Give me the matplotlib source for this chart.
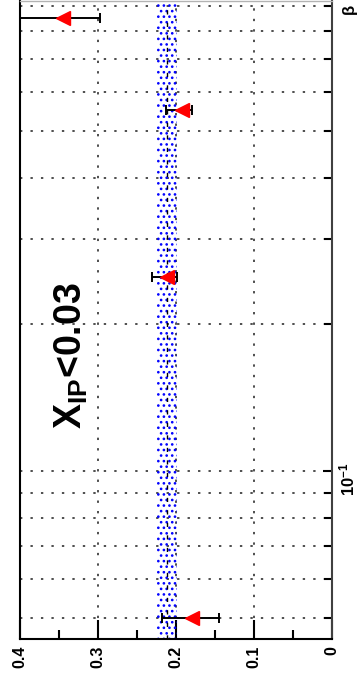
import matplotlib
matplotlib.use("Agg")
import matplotlib.pyplot as plt
from matplotlib.ticker import FixedLocator, FixedFormatter, NullFormatter

# ---------------- data ----------------
beta = [0.050, 0.25, 0.55, 0.85]
ratio = [0.180, 0.212, 0.192, 0.345]
err_up = [0.038, 0.019, 0.021, 0.055]
err_lo = [0.035, 0.013, 0.012, 0.047]
band_lo, band_hi, band_mid = 0.199, 0.225, 0.212

value_ticks = [0.0, 0.1, 0.2, 0.3, 0.4]
value_ticklabels = ["0", "0.1", "0.2", "0.3", "0.4"]
value_minor = [0.05, 0.15, 0.25, 0.35]
beta_major = [0.1]
beta_major_labels = [r"10$^{-1}$"]
beta_minor = [0.05, 0.06, 0.07, 0.08, 0.09, 0.2, 0.3, 0.4, 0.5, 0.6, 0.7, 0.8, 0.9]
label_text = r"X$_{\mathbf{IP}}$<0.03"
axis_title = "β"

# ---------------- style ----------------
plt.rcParams['font.family'] = ['Liberation Sans', 'DejaVu Sans']
plt.rcParams['font.weight'] = 'bold'
plt.rcParams['mathtext.fontset'] = 'custom'
plt.rcParams['mathtext.rm'] = 'Liberation Sans:bold'
plt.rcParams['mathtext.bf'] = 'Liberation Sans:bold'
plt.rcParams['mathtext.default'] = 'bf'
plt.rcParams['hatch.linewidth'] = 1.1

fig = plt.figure(figsize=(3.57, 6.89), dpi=100)
ax = fig.add_axes([20/357, 50/689, 312/357, 638.5/689])

ax.set_yscale('log')
ax.set_xlim(0.4, 0.0)
ax.set_ylim(0.0452, 0.925)

# band
ax.axvspan(band_lo, band_hi, facecolor='none', edgecolor='blue', hatch='...', lw=0, zorder=1)
ax.axvline(band_mid, color='black', ls=(0, (3, 6)), lw=1.0, zorder=1.5)

# grid
grid_kw = dict(color='0.25', ls=(0, (1.3, 4.5)), lw=1.3)
ax.grid(True, which='both', axis='y', **grid_kw)
ax.grid(True, which='major', axis='x', **grid_kw)
ax.set_axisbelow(True)

# data
ax.errorbar(ratio, beta, xerr=[err_lo, err_up], fmt='<', color='red', mec='red',
            ms=9.5, ecolor='black', elinewidth=1.4, capsize=3.6, capthick=1.4, zorder=3)

# value axis (horizontal)
ax.xaxis.set_major_locator(FixedLocator(value_ticks))
ax.xaxis.set_major_formatter(FixedFormatter(value_ticklabels))
ax.xaxis.set_minor_locator(FixedLocator(value_minor))
ax.tick_params(axis='x', which='major', direction='in', length=13.5, width=1.5,
               labelrotation=90, pad=5, labelsize=11.5, top=False)
ax.tick_params(axis='x', which='minor', direction='in', length=6.5, width=1.5, top=False)

# beta axis (vertical, on the right)
ax.yaxis.set_major_locator(FixedLocator(beta_major))
ax.yaxis.set_major_formatter(FixedFormatter(beta_major_labels))
ax.yaxis.set_minor_locator(FixedLocator(beta_minor))
ax.yaxis.set_minor_formatter(NullFormatter())
ax.yaxis.tick_right()
ax.tick_params(axis='y', which='major', direction='in', length=6.5, width=1.5,
               labelrotation=90, pad=4, labelsize=12, left=False, right=True)
ax.tick_params(axis='y', which='minor', direction='in', length=6, width=1.5,
               left=False, right=True)

for s in ['left', 'bottom']:
    ax.spines[s].set_color('black')
    ax.spines[s].set_linewidth(1.5)
ax.spines['right'].set_color('0.25')
ax.spines['right'].set_linewidth(1.5)
ax.spines['top'].set_color('0.7')
ax.spines['top'].set_linewidth(1.0)

ax.text(0.165, 0.444, label_text, transform=ax.transAxes, rotation=90,
        ha='center', va='center', fontsize=27, fontweight='bold')
fig.text(349/357, 1 - 9/689, axis_title, rotation=90, ha='center', va='center',
         fontsize=12, fontweight='bold')

fig.savefig('out.png', dpi=100)
